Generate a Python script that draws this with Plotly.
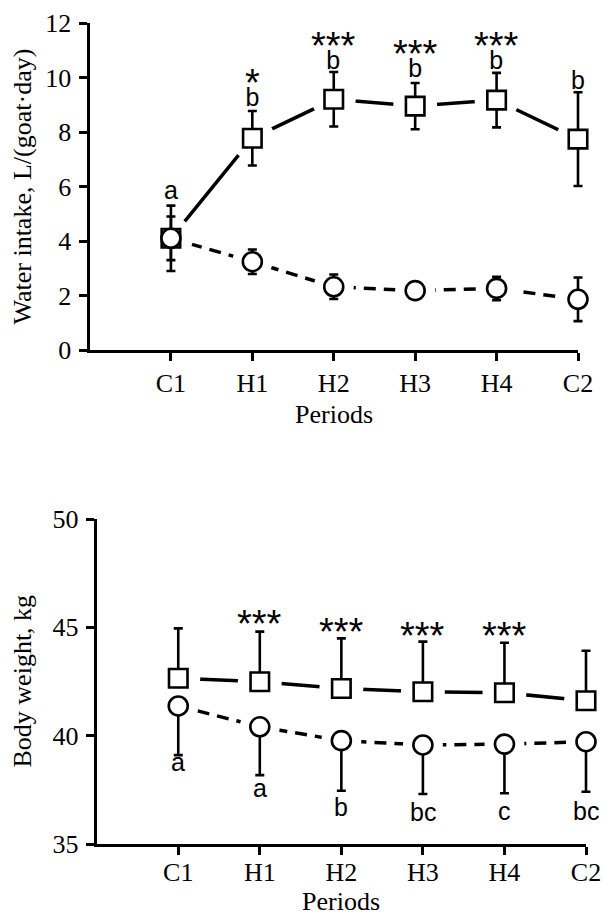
import plotly.graph_objects as go

# ---------------- data ----------------
periods = ["C1", "H1", "H2", "H3", "H4", "C2"]

# Water intake, L/(goat·day)
water_sq = [4.10, 7.77, 9.20, 8.95, 9.17, 7.74]
water_sq_sd = [1.20, 1.00, 1.00, 0.85, 1.00, 1.72]
water_ci = [4.10, 3.24, 2.32, 2.18, 2.26, 1.86]
water_ci_sd = [0.80, 0.45, 0.45, 0.30, 0.43, 0.80]

# Body weight, kg
bw_sq = [42.65, 42.49, 42.18, 42.03, 41.98, 41.61]
bw_sq_sd = [2.30, 2.31, 2.31, 2.31, 2.31, 2.31]
bw_ci = [41.37, 40.41, 39.77, 39.57, 39.61, 39.72]
bw_ci_sd = [2.27, 2.23, 2.31, 2.26, 2.27, 2.31]
no_err = [0, 0, 0, 0, 0, 0]

# significance labels
water_letters = ["a", "b", "b", "b", "b", "b"]
water_letter_y = [5.87, 9.27, 10.64, 10.34, 10.62, 9.90]
water_stars = ["", "*", "***", "***", "***", ""]

bw_stars = ["", "***", "***", "***", "***", ""]
bw_star_y = [None, 45.57, 45.18, 45.00, 45.00, None]
bw_letters = ["a", "a", "b", "bc", "c", "bc"]
bw_letter_y = [38.80, 37.57, 36.72, 36.49, 36.54, 36.54]

water_ticks = [0, 2, 4, 6, 8, 10, 12]
bw_ticks = [35, 40, 45, 50]

# ---------------- figure ----------------
W, H = 604, 916
SERIF = "Liberation Serif, Times New Roman, serif"
SANS = "Liberation Sans, Arial, sans-serif"
FS_SERIF = 26
FS_LETTER = 25
FS_STAR = 38

# pixel geometry of the two panels
TOP_L, TOP_R, TOP_T, TOP_B = 89.5, 578.0, 23.0, 350.0
BOT_L, BOT_R, BOT_T, BOT_B = 96.7, 586.0, 519.0, 844.0
EXTRA_TOP = 20.0   # room right of C2 so the last error bar is not clipped
EXTRA_BOT = 18.0

fig = go.Figure()


def add_panel(xa_vis, xa_wide, ya, sq, sq_plus, sq_minus, ci, ci_plus, ci_minus):
    # connecting lines (on the visible axis)
    fig.add_trace(go.Scatter(x=periods, y=sq, mode="lines", xaxis=xa_vis, yaxis=ya,
                             line=dict(color="black", width=3.5), hoverinfo="skip"))
    fig.add_trace(go.Scatter(x=periods, y=ci, mode="lines", xaxis=xa_vis, yaxis=ya,
                             line=dict(color="black", width=3.5, dash="12px,8px"),
                             hoverinfo="skip"))
    # white halos to break lines near markers
    fig.add_trace(go.Scatter(x=periods, y=sq, mode="markers", xaxis=xa_vis, yaxis=ya,
                             marker=dict(symbol="circle", size=44, color="white"),
                             cliponaxis=False, hoverinfo="skip"))
    fig.add_trace(go.Scatter(x=periods, y=ci, mode="markers", xaxis=xa_vis, yaxis=ya,
                             marker=dict(symbol="circle", size=40, color="white"),
                             cliponaxis=False, hoverinfo="skip"))
    # markers with error bars (on the wider hidden axis: no clipping at C2)
    fig.add_trace(go.Scatter(x=periods, y=sq, mode="markers", xaxis=xa_wide, yaxis=ya,
                             marker=dict(symbol="square", size=18.5, color="white",
                                         line=dict(color="black", width=2.6)),
                             error_y=dict(type="data", symmetric=False, array=sq_plus,
                                          arrayminus=sq_minus, color="black",
                                          thickness=2.6, width=4.5),
                             cliponaxis=False))
    fig.add_trace(go.Scatter(x=periods, y=ci, mode="markers", xaxis=xa_wide, yaxis=ya,
                             marker=dict(symbol="circle", size=19, color="white",
                                         line=dict(color="black", width=2.6)),
                             error_y=dict(type="data", symmetric=False, array=ci_plus,
                                          arrayminus=ci_minus, color="black",
                                          thickness=2.6, width=4.5),
                             cliponaxis=False))


add_panel("x", "x3", "y", water_sq, water_sq_sd, water_sq_sd,
          water_ci, water_ci_sd, water_ci_sd)
add_panel("x2", "x4", "y2", bw_sq, bw_sq_sd, no_err, bw_ci, no_err, bw_ci_sd)

axis_common = dict(showline=True, linecolor="black", linewidth=3, ticks="outside",
                   ticklen=8, tickwidth=2.5, tickcolor="black", showgrid=False,
                   zeroline=False, automargin=False,
                   tickfont=dict(family=SERIF, size=FS_SERIF, color="black"))
cat = dict(type="category", categoryorder="array", categoryarray=periods)

n_units = len(periods)  # axis runs from -1 to 5
top_step = (TOP_R - TOP_L) / n_units
bot_step = (BOT_R - BOT_L) / n_units

fig.update_layout(
    template="none",
    width=W, height=H, margin=dict(l=0, r=0, t=0, b=0, autoexpand=False),
    paper_bgcolor="white", plot_bgcolor="rgba(0,0,0,0)", showlegend=False,
    # visible category axes ending at C2
    xaxis=dict(domain=[TOP_L / W, TOP_R / W], anchor="y", range=[-1, 5],
               ticklabelstandoff=0, **cat, **axis_common),
    xaxis2=dict(domain=[BOT_L / W, BOT_R / W], anchor="y2", range=[-1, 5],
                ticklabelstandoff=-5, **cat, **axis_common),
    # hidden, slightly wider data axes with the identical scale
    xaxis3=dict(domain=[TOP_L / W, (TOP_R + EXTRA_TOP) / W], anchor="y",
                range=[-1, 5 + EXTRA_TOP / top_step], visible=False,
                automargin=False, **cat),
    xaxis4=dict(domain=[BOT_L / W, (BOT_R + EXTRA_BOT) / W], anchor="y2",
                range=[-1, 5 + EXTRA_BOT / bot_step], visible=False,
                automargin=False, **cat),
    yaxis=dict(domain=[1 - TOP_B / H, 1 - TOP_T / H], anchor="x", range=[0, 12],
               tickvals=water_ticks, ticklabelstandoff=2, **axis_common),
    yaxis2=dict(domain=[1 - BOT_B / H, 1 - BOT_T / H], anchor="x2", range=[35, 50],
                tickvals=bw_ticks, ticklabelstandoff=2, **axis_common),
)

ann = []


def sans(size, color="black"):
    return dict(family=SANS, size=size, color=color)


# top panel: letters, with stacked stars where present
for p, letter, ly, star in zip(periods, water_letters, water_letter_y, water_stars):
    if star:
        txt = (f'<span style="font-size:{FS_STAR}px">{star}</span><br>'
               f'<span style="font-size:{FS_LETTER}px">{letter}</span>')
        ann.append(dict(x=p, y=ly, xref="x", yref="y", text=txt, showarrow=False,
                        xanchor="center", yanchor="middle", yshift=11,
                        align="center", font=sans(8)))
    else:
        ann.append(dict(x=p, y=ly, xref="x", yref="y", text=letter, showarrow=False,
                        xanchor="center", yanchor="middle", font=sans(FS_LETTER)))

# bottom panel
for p, t, yv in zip(periods, bw_stars, bw_star_y):
    if t:
        ann.append(dict(x=p, y=yv, xref="x2", yref="y2", text=t, showarrow=False,
                        xanchor="center", yanchor="middle", yshift=-9,
                        font=sans(FS_STAR)))
for p, t, yv in zip(periods, bw_letters, bw_letter_y):
    ann.append(dict(x=p, y=yv, xref="x2", yref="y2", text=t, showarrow=False,
                    xanchor="center", yanchor="middle", font=sans(FS_LETTER)))

# axis titles
serif_font = dict(family=SERIF, size=FS_SERIF, color="black")
ann.append(dict(x=22 / W, y=1 - (TOP_T + TOP_B) / 2 / H, xref="paper", yref="paper",
                text="Water intake, L/(goat·day)", textangle=-90, showarrow=False,
                xanchor="center", yanchor="middle", font=serif_font))
ann.append(dict(x=(TOP_L + TOP_R) / 2 / W, y=1 - 414 / H, xref="paper", yref="paper",
                text="Periods", showarrow=False, xanchor="center", yanchor="middle",
                font=serif_font))
ann.append(dict(x=22 / W, y=1 - (BOT_T + BOT_B) / 2 / H, xref="paper", yref="paper",
                text="Body weight, kg", textangle=-90, showarrow=False,
                xanchor="center", yanchor="middle", font=serif_font))
ann.append(dict(x=(BOT_L + BOT_R) / 2 / W, y=1 - 901 / H, xref="paper", yref="paper",
                text="Periods", showarrow=False, xanchor="center", yanchor="middle",
                font=serif_font))

fig.update_layout(annotations=ann)

fig.write_html(
    "out.html",
    config={"displayModeBar": False},
    post_script="document.body.style.margin='0';document.body.style.overflow='hidden';",
)
